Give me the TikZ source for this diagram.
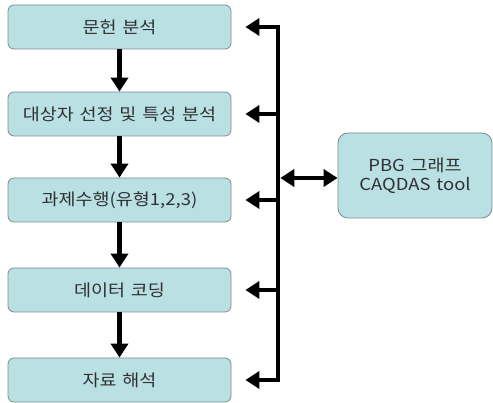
\documentclass[tikz,border=0pt]{standalone}
\usepackage{fontspec}
\newfontfamily\krfont[WordSpace=1.4, FakeStretch=1.12]{Noto Sans CJK KR}
\usepackage{xcolor}
\definecolor{boxfill}{HTML}{B9E0E3}
\definecolor{boxline}{HTML}{7E8C8E}
\definecolor{boxtext}{HTML}{303030}
\usepackage{tikz}
\usetikzlibrary{
  arrows.meta,
  positioning,
  calc
}

\begin{document}
\begin{tikzpicture}[
  x=1pt, y=1pt,
  stepbox/.style={rectangle, rounded corners=6pt, draw=boxline, line width=0.8pt, fill=boxfill, minimum width=223pt, minimum height=44pt, font=\krfont\fontsize{16.5}{18}\selectfont, text=boxtext},
  toolbox/.style={rectangle, rounded corners=10pt, draw=boxline, line width=0.8pt, fill=boxfill, minimum width=154pt, minimum height=85pt, font=\krfont\fontsize{16.5}{19}\selectfont, text=boxtext, align=center},
  arr/.style={-{Triangle[length=14pt, width=17pt]}, line width=4.5pt},
  darr/.style={{Triangle[length=14pt, width=17pt]}-{Triangle[length=14pt, width=17pt]}, line width=4.5pt},
]
\useasboundingbox (0,0) rectangle (493,-403);

\node[stepbox] (s1) at (119.5,-27) {문헌 분석};
\node[stepbox] (s2) at (119.5,-114) {대상자 선정 및 특성 분석};
\node[stepbox] (s3) at (119.5,-200) {과제수행(유형1,2,3)};
\node[stepbox] (s4) at (119.5,-290) {데이터 코딩};
\node[stepbox] (s5) at (119.5,-380) {자료 해석};

\node[toolbox] (tool) at (415,-175.5) {PBG 그래프\\CAQDAS tool};

% Bus
\coordinate (bustop) at (278,-27);
\coordinate (busbot) at (278,-380);
\coordinate (busmid) at (278,-178);
\draw[line width=4.5pt] ([yshift=2.25pt]bustop) -- ([yshift=-2.25pt]busbot);

\draw[arr] (s1) -- (s2);
\draw[arr] (s2) -- (s3);
\draw[arr] (s3) -- (s4);
\draw[arr] (s4) -- (s5);

\draw[arr, shorten >=14pt] (bustop) -- (s1.east);
\draw[arr, shorten >=14pt] (bustop |- s2.east) -- (s2.east);
\draw[arr, shorten >=14pt] (bustop |- s3.east) -- (s3.east);
\draw[arr, shorten >=14pt] (bustop |- s4.east) -- (s4.east);
\draw[arr, shorten >=14pt] (busbot) -- (s5.east);

\draw[darr] ([xshift=2.25pt]busmid) -- (busmid -| tool.west);

\end{tikzpicture}
\end{document}
